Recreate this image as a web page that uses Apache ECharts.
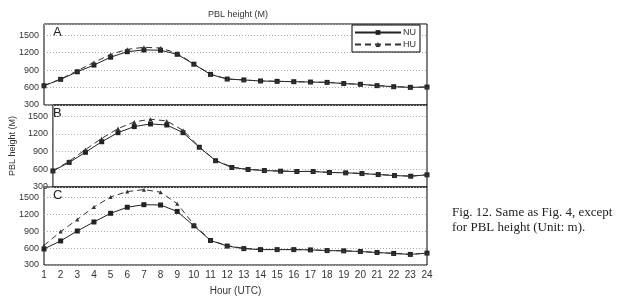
<!DOCTYPE html>
<html>
<head>
<meta charset="utf-8">
<script src="https://cdn.jsdelivr.net/npm/echarts@6/dist/echarts.min.js"></script>
<style>
  html, body { margin: 0; padding: 0; background: #fff; }
  #main { width: 625px; height: 297px; }
</style>
</head>
<body>
<div id="main"></div>
<script>
var hours = ['1','2','3','4','5','6','7','8','9','10','11','12','13','14','15','16','17','18','19','20','21','22','23','24'];

var nuA = [630,740,870,985,1120,1215,1245,1240,1170,1000,825,745,730,712,706,700,694,688,668,655,632,614,603,608];
var huA = [635,745,888,1030,1168,1255,1290,1278,1188,1005,828,747,730,712,707,700,695,689,667,656,633,615,604,609];

var nuB = [572,717,888,1067,1221,1324,1369,1351,1221,974,746,631,597,579,568,563,563,546,540,528,511,494,483,506];
var huB = [575,735,934,1123,1290,1403,1449,1420,1260,980,750,640,600,582,570,565,565,548,542,530,513,496,485,508];

var nuC = [586,729,906,1067,1221,1329,1375,1369,1255,998,737,638,592,574,574,574,569,557,552,540,523,506,489,512];
var huC = [648,895,1111,1334,1513,1609,1643,1598,1392,1021,741,645,597,578,576,575,570,558,553,541,524,507,490,513];

var panels = ['A', 'B', 'C'];
var nuData = [nuA, nuB, nuC];
var huData = [huA, huB, huC];

var font = 'Liberation Sans';
var chart = echarts.init(document.getElementById('main'));

var grids = [], xAxes = [], yAxes = [], series = [], graphics = [];
var tops = [24, 105, 187];
var heights = [81, 82, 81];

for (var i = 0; i < 3; i++) {
  grids.push({
    left: 44, width: 383, top: tops[i], height: heights[i],
    show: true, borderColor: '#000', borderWidth: 1
  });
  xAxes.push({
    type: 'category', gridIndex: i, data: hours, boundaryGap: false,
    axisLine: { show: false },
    axisTick: { show: false },
    axisLabel: { show: i === 2, color: '#333', fontSize: 10, fontFamily: font, margin: 5 },
    splitLine: { show: false },
    name: i === 2 ? 'Hour (UTC)' : '',
    nameLocation: 'middle', nameGap: 21,
    nameTextStyle: { color: '#333', fontSize: 10, fontFamily: font }
  });
  yAxes.push({
    type: 'value', gridIndex: i, min: 300, max: 1690, interval: 300,
    axisLine: { show: false },
    axisTick: { show: false },
    axisLabel: {
      color: '#333', fontSize: 9, fontFamily: font, margin: 5, showMaxLabel: false,
      formatter: function (v) { return String(v); }
    },
    splitLine: { show: true, lineStyle: { color: '#aaa', type: [1, 2], width: 1 } },
    name: i === 1 ? 'PBL height (M)' : '',
    nameLocation: 'middle', nameGap: 32,
    nameTextStyle: { color: '#333', fontSize: 9, fontFamily: font }
  });
  series.push({
    name: 'NU', type: 'line', xAxisIndex: i, yAxisIndex: i, data: nuData[i],
    symbol: 'rect', symbolSize: 5,
    lineStyle: { color: '#222', width: 1 },
    itemStyle: { color: '#222' }
  });
  series.push({
    name: 'HU', type: 'line', xAxisIndex: i, yAxisIndex: i, data: huData[i],
    symbol: 'triangle', symbolSize: 4,
    lineStyle: { color: '#333', width: 1, type: [6, 4] },
    itemStyle: { color: '#333' }
  });
  graphics.push({
    type: 'text', left: 53, top: tops[i] + 2,
    style: { text: panels[i], fontSize: 13, fontFamily: font, fill: '#222' }
  });
}

graphics.push({
  type: 'text', left: 452, top: 205,
  style: {
    text: 'Fig. 12. Same as Fig. 4, except\nfor PBL height (Unit: m).',
    fontSize: 13, lineHeight: 15, fontFamily: 'Liberation Serif', fill: '#222'
  }
});

chart.setOption({
  animation: false,
  backgroundColor: '#fff',
  title: {
    text: 'PBL height (M)', left: 203, top: 5,
    textStyle: { fontSize: 9, fontWeight: 'normal', color: '#333', fontFamily: font }
  },
  legend: {
    data: ['NU', 'HU'], orient: 'vertical',
    left: 352, top: 25, width: 74,
    itemWidth: 46, itemHeight: 6, itemGap: 3,
    padding: [3, 4, 3, 2],
    borderColor: '#000', borderWidth: 1, backgroundColor: '#fff',
    textStyle: { fontSize: 9, color: '#333', fontFamily: font, padding: [0, 0, 0, -3] }
  },
  grid: grids,
  xAxis: xAxes,
  yAxis: yAxes,
  series: series,
  graphic: graphics
});
</script>
</body>
</html>
